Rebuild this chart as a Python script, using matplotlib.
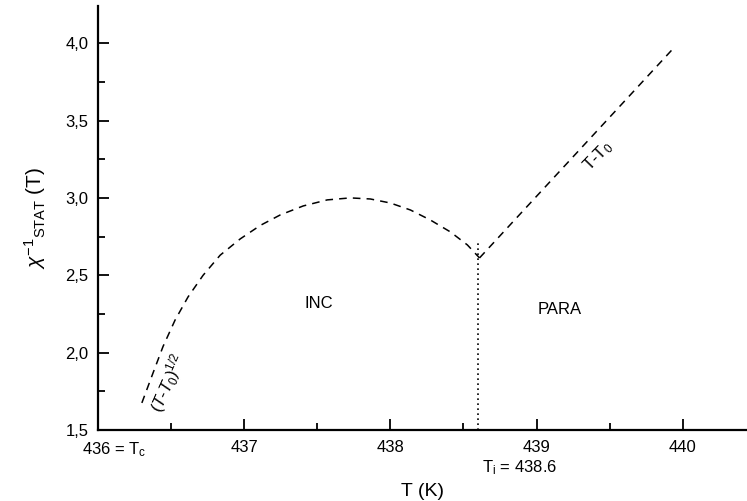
import matplotlib
matplotlib.use('Agg')
import matplotlib.pyplot as plt
import matplotlib.ticker as ticker

plt.rcParams['font.family'] = ['Liberation Sans', 'DejaVu Sans']
plt.rcParams['mathtext.fontset'] = 'custom'
plt.rcParams['mathtext.rm'] = 'Liberation Sans'
plt.rcParams['mathtext.it'] = 'Liberation Sans:italic'
plt.rcParams['mathtext.bf'] = 'Liberation Sans:bold'

# INC branch, (T-T0)^1/2 like
incT = [436.300, 436.377, 436.445, 436.527, 436.616, 436.719, 436.836,
        436.973, 437.110, 437.247, 437.404, 437.568, 437.726, 437.863,
        438.000, 438.137, 438.274, 438.411, 438.527, 438.610]
incChi = [1.675, 1.870, 2.040, 2.210, 2.360, 2.500, 2.630,
          2.735, 2.822, 2.890, 2.948, 2.987, 3.000, 2.993,
          2.967, 2.922, 2.857, 2.780, 2.696, 2.612]

# PARA branch, linear T-T0
paraT = [438.61, 439.93]
paraChi = [2.612, 3.96]

# transition temperature and marker extent
Ti = 438.6
tiChi = [1.5, 2.73]

xTicks = [436, 437, 438, 439, 440]
xTickLabels = ['', '437', '438', '439', '440']
yTicks = [1.5, 2.0, 2.5, 3.0, 3.5, 4.0]

fig = plt.figure(figsize=(7.47, 5.01), dpi=100)
ax = fig.add_axes([0.1312, 0.1417, 0.8688, 0.8463])

ax.plot(incT, incChi, color='black', lw=1.1, ls=(0, (5, 4)))
ax.plot(paraT, paraChi, color='black', lw=1.1, ls=(0, (5, 4)))
ax.plot([Ti, Ti], tiChi, color='black', lw=1.2, ls=(0, (1, 2)))

ax.set_xlim(436.0, 440.44)
ax.set_ylim(1.5, 4.24)

ax.spines['top'].set_visible(False)
ax.spines['right'].set_visible(False)
ax.spines['left'].set_linewidth(1.6)
ax.spines['bottom'].set_linewidth(1.6)

ax.set_xticks(xTicks)
ax.set_xticklabels(xTickLabels)
ax.xaxis.set_minor_locator(ticker.MultipleLocator(0.5))
ax.set_yticks(yTicks)
ax.yaxis.set_major_formatter(ticker.FuncFormatter(lambda v, p: ('%.1f' % v).replace('.', ',')))
ax.yaxis.set_minor_locator(ticker.MultipleLocator(0.25))
ax.tick_params(which='both', direction='in', width=1.3, labelsize=12)
ax.tick_params(which='major', length=8, pad=7)
ax.tick_params(which='minor', length=5)

ax.set_xlabel('T (K)', fontsize=14, labelpad=20)
ax.set_ylabel(r'$\chi^{-1}{}_{\mathrm{STAT}}$ (T)', fontsize=15, labelpad=12)

xt = ax.get_xaxis_transform()
ax.text(435.89, -0.025, r'436 = T$_\mathrm{c}$', transform=xt, ha='left', va='top', fontsize=12)
ax.text(438.63, -0.066, r'T$_\mathrm{i}$ = 438.6', transform=xt, ha='left', va='top', fontsize=12)

ax.text(437.51, 2.32, 'INC', ha='center', va='center', fontsize=12)
ax.text(439.16, 2.28, 'PARA', ha='center', va='center', fontsize=12)
ax.text(439.42, 3.27, r'T-T$_\mathrm{0}$', ha='center', va='center', fontsize=12, rotation=46)
ax.text(436.48, 1.80, r'$(T$-$T_{0})^{1/2}$', ha='center', va='center', fontsize=12, rotation=66)

fig.savefig('out.png', dpi=100)
